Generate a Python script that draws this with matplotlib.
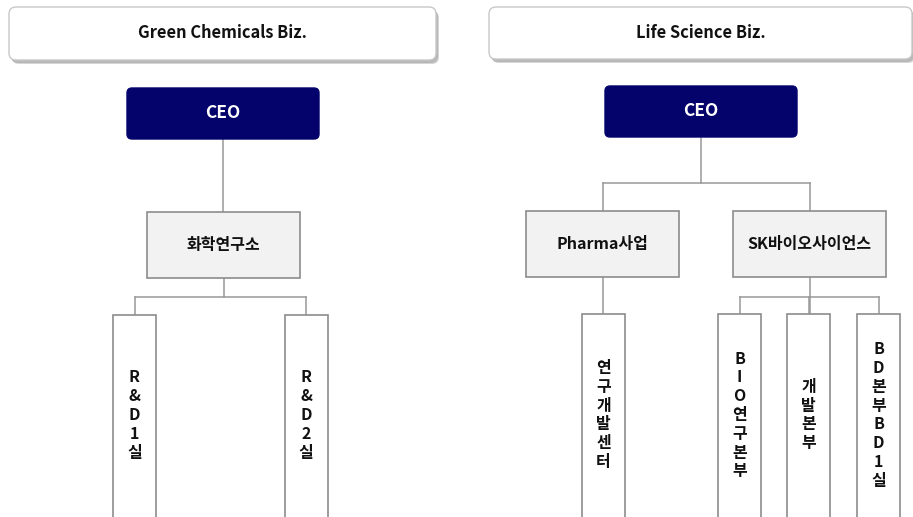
import matplotlib

matplotlib.use("Agg")
import matplotlib.pyplot as plt
from matplotlib.patches import FancyBboxPatch, Rectangle

plt.rcParams["font.family"] = ["Noto Sans CJK KR", "DejaVu Sans"]

# chart content
panel_titles = ["Green Chemicals Biz.", "Life Science Biz."]
top_label = "CEO"
left_mid = ["화학연구소"]
left_leaves = [["R&D1실", "R&D2실"]]
right_mid = ["Pharma사업", "SK바이오사이언스"]
right_leaves = [["연구개발센터"], ["BIO연구본부", "개발본부", "BD본부BD1실"]]

W, H = 913, 517
NAVY = "#03036b"
GREY_FILL = "#f2f2f2"
EDGE = "#8c8c8c"
LINE = "#999999"

fig = plt.figure(figsize=(W / 100, H / 100), dpi=100)
ax = fig.add_axes([0, 0, 1, 1])
ax.set_xlim(0, W)
ax.set_ylim(H, 0)
ax.axis("off")


def header(x0, x1, y0, y1, text):
    r = 7
    # soft shadow, two layers
    for dx, dy, c in [(3, 4, "#d6d6d6"), (2, 3, "#b8b8b8")]:
        ax.add_patch(FancyBboxPatch((x0 + r + dx, y0 + r + dy), x1 - x0 - 2 * r, y1 - y0 - 2 * r,
                                    boxstyle=f"round,pad={r}", fc=c, ec="none", zorder=1))
    box = FancyBboxPatch((x0 + r, y0 + r), x1 - x0 - 2 * r, y1 - y0 - 2 * r,
                         boxstyle=f"round,pad={r}", fc="white", ec="#c8c8c8", lw=1, zorder=2)
    ax.add_patch(box)
    ax.text((x0 + x1) / 2, (y0 + y1) / 2, text, ha="center", va="center",
            fontsize=11.8, fontweight="bold", color="#111111", zorder=3)


def ceo(cx, y0, w=192, h=51):
    r = 5
    box = FancyBboxPatch((cx - w / 2 + r, y0 + r), w - 2 * r, h - 2 * r,
                         boxstyle=f"round,pad={r}", fc=NAVY, ec=NAVY, lw=1, zorder=2)
    ax.add_patch(box)
    ax.text(cx, y0 + h / 2, top_label, ha="center", va="center",
            fontsize=12.5, fontweight="bold", color="white", zorder=3)


def mid_box(cx, y0, text, w=153, h=66):
    ax.add_patch(Rectangle((cx - w / 2, y0), w, h, fc=GREY_FILL, ec=EDGE, lw=1.2, zorder=2))
    ax.text(cx, y0 + h / 2, text, ha="center", va="center",
            fontsize=11.5, fontweight="bold", color="#111111", zorder=3)


def leaf_box(cx, y0, text, w=43, yc=415, step=18.8):
    ax.add_patch(Rectangle((cx - w / 2, y0), w, H + 40 - y0, fc="white", ec=EDGE, lw=1.2, zorder=2))
    chars = list(text)
    n = len(chars)
    for i, ch in enumerate(chars):
        y = yc + (i - (n - 1) / 2) * step
        ax.text(cx, y, ch, ha="center", va="center", fontsize=11.5,
                fontweight="bold", color="#111111", zorder=3)


def vline(x, y0, y1):
    ax.plot([x, x], [y0, y1], color=LINE, lw=1.1, zorder=1)


def hline(x0, x1, y):
    ax.plot([x0, x1], [y, y], color=LINE, lw=1.1, zorder=1)


# ---- left panel: Green Chemicals
header(9, 436, 7, 60, panel_titles[0])
ceo(223, 88)
vline(223, 139, 212)
mid_box(223.5, 212, left_mid[0])
vline(223.5, 278, 297)
l_x = [134.5, 306]
hline(l_x[0], l_x[-1], 297)
for x, name in zip(l_x, left_leaves[0]):
    vline(x, 297, 315)
    leaf_box(x, 315, name)

# ---- right panel: Life Science
header(489, 912, 7, 59, panel_titles[1])
ceo(701, 86)
m_x = [602.5, 809.5]
vline(701, 138, 183)
hline(m_x[0], m_x[1], 183)
for x, name in zip(m_x, right_mid):
    vline(x, 183, 211)
    mid_box(x, 211, name)

# Pharma -> one leaf
vline(m_x[0], 277, 314)
leaf_box(603.5, 314, right_leaves[0][0])

# SK -> three leaves
r_x = [739.5, 808.5, 878.5]
vline(m_x[1], 277, 314)
hline(r_x[0], r_x[-1], 297)
for x, name in zip(r_x, right_leaves[1]):
    vline(x, 297, 314)
    leaf_box(x, 314, name)

fig.savefig("out.png", dpi=100)
